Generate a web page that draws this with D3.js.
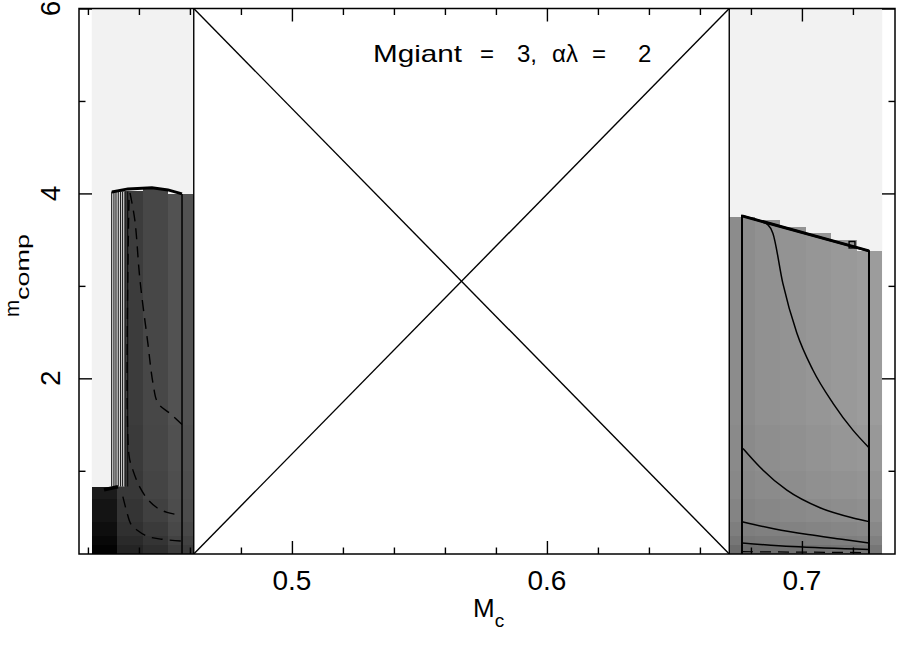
<!DOCTYPE html>
<html>
<head>
<meta charset="utf-8">
<script src="https://cdn.jsdelivr.net/npm/d3@7"></script>
<style>
  body { margin: 0; background: #fff; }
  text { font-family: "Liberation Sans", Arial, sans-serif; fill: #000; }
</style>
</head>
<body>
<script>
// x cell edges (Mc) of the two shaded strips, row edges in m_comp
const leftEdges = [0.4215, 0.4315, 0.4415, 0.4515, 0.4615];
const rightEdges = [0.6715, 0.6815, 0.6915, 0.7015, 0.7115, 0.7215, 0.7315];
const rowEdges = [0.1, 0.2, 0.3, 0.45, 0.7, 1.0, 1.5, 6];

// top of the shaded part of each column
const leftTops = [0.82, 4.03, 4.05, 3.99];
const rightTops = [3.75, 3.71, 3.64, 3.57, 3.50, 3.38];

// grey level (0 black .. 255 white) per column, per row
const leftShade = [
  [3, 8, 14, 20, 27, 27, 27],
  [36, 42, 48, 52, 56, 58, 60],
  [46, 52, 58, 64, 68, 70, 71],
  [60, 66, 72, 76, 78, 80, 82]
];
const rightShade = [
  [108, 118, 126, 132, 136, 138, 140],
  [110, 120, 128, 135, 139, 142, 145],
  [112, 122, 130, 137, 141, 144, 147],
  [114, 124, 132, 139, 144, 147, 150],
  [116, 126, 134, 141, 146, 150, 153],
  [118, 128, 136, 143, 148, 152, 156]
];

// contours, right strip (solid)
const rightContours = [
  [[0.6843, 3.69], [0.6867, 3.66], [0.6886, 3.57], [0.6925, 3.03], [0.6980, 2.49], [0.7043, 2.09], [0.7122, 1.73], [0.7200, 1.44], [0.7263, 1.25]],
  [[0.6769, 1.24], [0.6835, 1.04], [0.6941, 0.79], [0.7071, 0.60], [0.7200, 0.49], [0.7263, 0.45]],
  [[0.6765, 0.45], [0.6894, 0.37], [0.7024, 0.31], [0.7157, 0.26], [0.7263, 0.22]],
  [[0.6765, 0.22], [0.6961, 0.18], [0.7263, 0.15]]
];
const rightDashed = [[0.6765, 0.125], [0.7263, 0.115]];
const rightBoundary = [[0.6765, 0.1], [0.6765, 3.757], [0.7263, 3.378], [0.7263, 0.1]];
const rightNotch = [0.7185, 0.7208, 3.41, 3.48];

// contours, left strip
const leftDashed = [
  [[0.4365, 4.005], [0.4384, 3.71], [0.4404, 3.065], [0.4435, 2.38], [0.4455, 1.95], [0.4475, 1.73], [0.4522, 1.62], [0.4569, 1.50]],
  [[0.4361, 3.93], [0.4361, 1.17], [0.4376, 1.01], [0.4404, 0.82], [0.4435, 0.69], [0.4471, 0.60], [0.4510, 0.55], [0.4565, 0.52]],
  [[0.4337, 0.72], [0.4353, 0.55], [0.4369, 0.42], [0.4392, 0.36], [0.4435, 0.29], [0.4490, 0.26], [0.4565, 0.24]]
];
const leftStripes = [0.4293, 0.4302, 0.4310, 0.4319, 0.4328, 0.4336, 0.4345, 0.4356];
const stripeRange = [0.83, 4.02];
const leftTopLine = [[0.4294, 4.016], [0.4357, 4.049], [0.4451, 4.06], [0.4514, 4.038], [0.4569, 3.995]];
const leftLowLine = [[0.4263, 0.795], [0.4318, 0.827]];

// the empty gap, crossed out
const gap = [0.4615, 0.6715];

const xMajor = [0.5, 0.6, 0.7];
const xMinor = [0.42, 0.44, 0.46, 0.48, 0.52, 0.54, 0.56, 0.58, 0.62, 0.64, 0.66, 0.68, 0.72];
const yMajor = [2, 4, 6];
const yMinor = [1, 3, 5];

const titleWords = ['Mgiant', '=', '3,', 'αλ', '=', '2'];
const titleX = [373, 480, 517, 552, 592, 638];

const width = 897;
const height = 661;
const pLeft = 79, pRight = 895, pTop = 8.5, pBottom = 554;

const x = d3.scaleLinear().domain([0.4165, 0.7365]).range([pLeft, pRight]);
const y = d3.scaleLinear().domain([0.1, 6]).range([pBottom, pTop]);
const grey = d3.scaleLinear().domain([0, 255]).range(['#000', '#fff']);

const svg = d3.select('body').append('svg')
  .attr('width', width).attr('height', height);

svg.append('clipPath').attr('id', 'plot')
  .append('rect').attr('x', pLeft).attr('y', pTop)
  .attr('width', pRight - pLeft).attr('height', pBottom - pTop);

const plot = svg.append('g').attr('clip-path', 'url(#plot)');

function cells(edges, tops, shades) {
  const out = [];
  for (let i = 0; i < edges.length - 1; i++) {
    for (let j = 0; j < rowEdges.length - 1; j++) {
      const y0 = rowEdges[j];
      const y1 = Math.min(rowEdges[j + 1], tops[i]);
      if (y1 > y0) out.push({ x0: edges[i], x1: edges[i + 1], y0, y1, v: shades[i][j] });
    }
  }
  return out;
}

// light backdrop of each strip
[leftEdges, rightEdges].forEach((e) => {
  plot.append('rect')
    .attr('x', x(e[0])).attr('width', x(e[e.length - 1]) - x(e[0]))
    .attr('y', y(6)).attr('height', y(0.1) - y(6))
    .attr('fill', '#f2f2f2');
});

plot.append('g')
  .selectAll('rect')
  .data(cells(leftEdges, leftTops, leftShade).concat(cells(rightEdges, rightTops, rightShade)))
  .join('rect')
  .attr('x', (d) => x(d.x0))
  .attr('width', (d) => x(d.x1) - x(d.x0))
  .attr('y', (d) => y(d.y1))
  .attr('height', (d) => y(d.y0) - y(d.y1))
  .attr('fill', (d) => grey(d.v))
  .attr('shape-rendering', 'crispEdges');

const line = d3.line().x((d) => x(d[0])).y((d) => y(d[1]));
const curve = d3.line().x((d) => x(d[0])).y((d) => y(d[1])).curve(d3.curveMonotoneX);
const smooth = d3.line().x((d) => x(d[0])).y((d) => y(d[1])).curve(d3.curveCatmullRom);

// cross in the gap
plot.append('g')
  .selectAll('path')
  .data([
    [[gap[0], 6], [gap[1], 0.1]],
    [[gap[0], 0.1], [gap[1], 6]],
    [[gap[0], 0.1], [gap[0], 6]],
    [[gap[1], 0.1], [gap[1], 6]]
  ])
  .join('path')
  .attr('d', line)
  .attr('fill', 'none').attr('stroke', '#000').attr('stroke-width', 1.4);

// left strip stripes
plot.append('rect')
  .attr('x', x(leftStripes[0])).attr('width', x(leftStripes[6]) - x(leftStripes[0]))
  .attr('y', y(stripeRange[1])).attr('height', y(stripeRange[0]) - y(stripeRange[1]))
  .attr('fill', '#d4d4d4');
plot.append('g')
  .selectAll('line')
  .data(leftStripes)
  .join('line')
  .attr('x1', (d) => x(d)).attr('x2', (d) => x(d))
  .attr('y1', y(stripeRange[0])).attr('y2', y(stripeRange[1]))
  .attr('stroke', '#000').attr('stroke-width', 0.9);

plot.append('path').attr('d', line(leftTopLine))
  .attr('fill', 'none').attr('stroke', '#000').attr('stroke-width', 3);
plot.append('path').attr('d', line([[0.4569, 0.1], [0.4569, 3.995]]))
  .attr('fill', 'none').attr('stroke', '#000').attr('stroke-width', 1.5);
plot.append('path').attr('d', line(leftLowLine))
  .attr('fill', 'none').attr('stroke', '#000').attr('stroke-width', 3.5);

plot.append('g')
  .selectAll('path')
  .data(leftDashed)
  .join('path')
  .attr('d', smooth)
  .attr('fill', 'none').attr('stroke', '#000').attr('stroke-width', 1.4)
  .attr('stroke-dasharray', '11,7');

// right strip
plot.append('g')
  .selectAll('path')
  .data(rightContours)
  .join('path')
  .attr('d', curve)
  .attr('fill', 'none').attr('stroke', '#000').attr('stroke-width', 1.5);
plot.append('path').attr('d', line(rightDashed))
  .attr('fill', 'none').attr('stroke', '#000').attr('stroke-width', 1.2)
  .attr('stroke-dasharray', '11,7');
plot.append('path').attr('d', line(rightBoundary))
  .attr('fill', 'none').attr('stroke', '#000').attr('stroke-width', 2);
plot.append('path').attr('d', line(rightBoundary.slice(1, 3)))
  .attr('fill', 'none').attr('stroke', '#000').attr('stroke-width', 3);
plot.append('rect')
  .attr('x', x(rightNotch[0])).attr('width', x(rightNotch[1]) - x(rightNotch[0]))
  .attr('y', y(rightNotch[3])).attr('height', y(rightNotch[2]) - y(rightNotch[3]))
  .attr('fill', 'none').attr('stroke', '#000').attr('stroke-width', 1.4);

// frame and inward ticks on all sides
function ticks(axisFn, scale, values, size, transform) {
  const g = svg.append('g')
    .attr('transform', transform)
    .call(axisFn(scale).tickValues(values).tickSize(-size).tickFormat(''));
  g.select('.domain').remove();
  g.selectAll('line').attr('stroke', '#000').attr('stroke-width', 1.4);
}
ticks(d3.axisBottom, x, xMajor, 13, `translate(0,${pBottom})`);
ticks(d3.axisBottom, x, xMinor, 6.5, `translate(0,${pBottom})`);
ticks(d3.axisTop, x, xMajor, 13, `translate(0,${pTop})`);
ticks(d3.axisTop, x, xMinor, 6.5, `translate(0,${pTop})`);
ticks(d3.axisLeft, y, yMajor, 13, `translate(${pLeft},0)`);
ticks(d3.axisLeft, y, yMinor, 6.5, `translate(${pLeft},0)`);
ticks(d3.axisRight, y, yMajor, 13, `translate(${pRight},0)`);
ticks(d3.axisRight, y, yMinor, 6.5, `translate(${pRight},0)`);

svg.append('rect')
  .attr('x', pLeft).attr('y', pTop)
  .attr('width', pRight - pLeft).attr('height', pBottom - pTop)
  .attr('fill', 'none').attr('stroke', '#000').attr('stroke-width', 1.5);

// tick labels
svg.append('g')
  .selectAll('text')
  .data(xMajor)
  .join('text')
  .attr('x', (d) => x(d)).attr('y', 590)
  .attr('text-anchor', 'middle')
  .attr('font-size', 28)
  .text(d3.format('.1f'));

svg.append('g')
  .selectAll('text')
  .data(yMajor)
  .join('text')
  .attr('transform', (d) => `translate(60,${y(d)}) rotate(-90)`)
  .attr('text-anchor', 'middle')
  .attr('font-size', 28)
  .text((d) => d);

// axis titles
const xt = svg.append('text').attr('x', 473).attr('y', 617).attr('font-size', 26);
xt.append('tspan').text('M');
xt.append('tspan').attr('dy', 10).attr('font-size', 19).text('c');

const yt = svg.append('text')
  .attr('transform', 'translate(19,317) rotate(-90)')
  .attr('font-size', 20);
yt.append('tspan').attr('textLength', 17).attr('lengthAdjust', 'spacingAndGlyphs').text('m');
yt.append('tspan').attr('dy', 10).attr('font-size', 18)
  .attr('textLength', 66).attr('lengthAdjust', 'spacingAndGlyphs').text('comp');

const title = svg.append('text').attr('y', 62).attr('font-size', 24);
title.selectAll('tspan')
  .data(titleWords)
  .join('tspan')
  .attr('x', (d, i) => titleX[i])
  .text((d) => d);
title.select('tspan')
  .attr('textLength', 89).attr('lengthAdjust', 'spacingAndGlyphs');
</script>
</body>
</html>
